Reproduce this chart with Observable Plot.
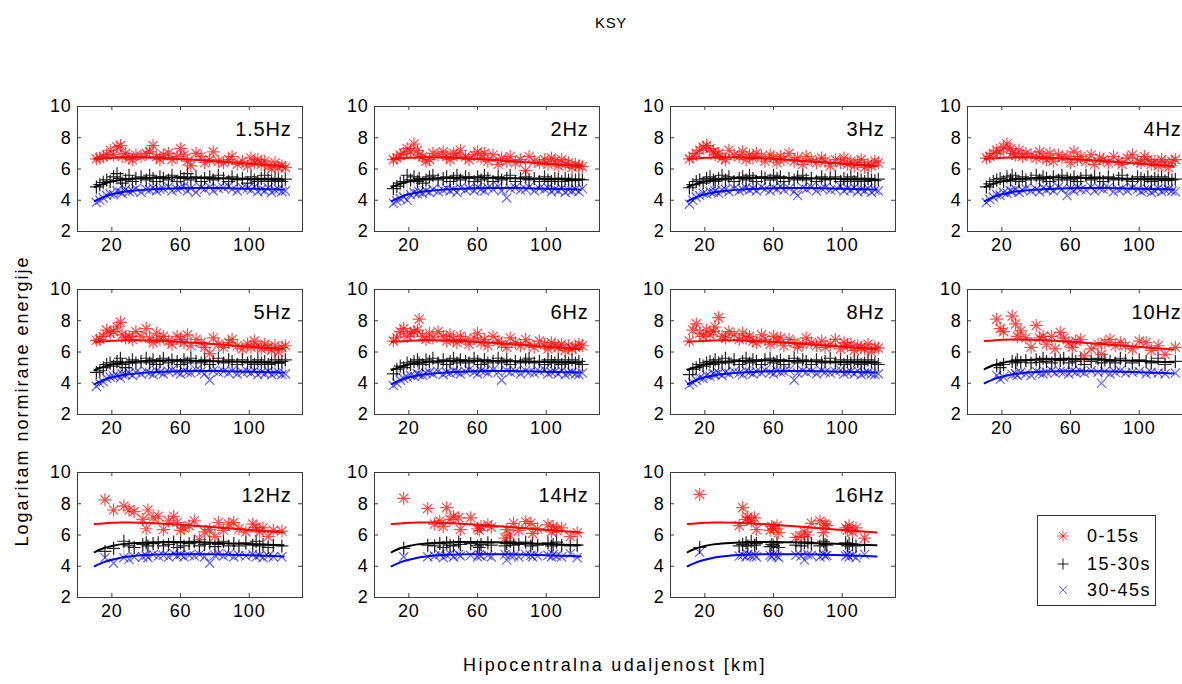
<!DOCTYPE html>
<html>
<head>
<meta charset="utf-8">
<script src="https://cdn.jsdelivr.net/npm/d3@7"></script>
<script src="https://cdn.jsdelivr.net/npm/@observablehq/plot@0.6"></script>
<style>
  html, body { margin: 0; padding: 0; background: #fff; }
  #root { position: relative; width: 1182px; height: 684px; overflow: hidden; background: #fff;
          font-family: "Liberation Sans", Arial, sans-serif; color: #000; }
  .panel { position: absolute; }
  .panel svg { max-width: none !important; display: block; }
  .lbl { position: absolute; white-space: nowrap; }
</style>
</head>
<body>
<div id="root"></div>
<script>
// ---------------- data ----------------
const title = "KSY";
const xTitle = "Hipocentralna udaljenost [km]";
const yTitle = "Logaritam normirane energije";
const seriesNames = ["0-15s", "15-30s", "30-45s"];
const panelLabels = ["1.5Hz","2Hz","3Hz","4Hz","5Hz","6Hz","8Hz","10Hz","12Hz","14Hz","16Hz"];
const xTicks = [20, 60, 100];
const yTicks = [2, 4, 6, 8, 10];
const xDomain = [0, 131];
const yDomain = [2, 10];

// event distances (km), low frequencies 1.5-8 Hz
const distLo = [11,13,15,17,19,21,23,25,26,28,30,32,34,37,40,42,44,46,48,50,53,55,58,60,62,64,66,69,72,74,77,79,82,85,88,90,93,96,99,101,103,105,107,109,111,113,115,117,119,121];

const red_1_5 = [6.65,6.7,6.8,6.9,7.2,6.9,7.4,7.5,6.8,7.0,6.7,6.6,6.9,6.8,7.0,7.1,7.5,6.8,6.6,6.9,7.0,6.6,6.8,7.3,6.9,6.5,6.2,7.0,6.8,6.4,6.6,7.1,6.5,6.4,6.6,6.8,6.3,6.5,6.2,6.7,6.4,6.6,6.3,6.5,6.2,6.0,6.4,6.1,6.2,6.1];
const blk_1_5 = [4.85,5.0,5.15,5.3,5.2,5.5,5.7,5.4,5.1,5.3,5.6,5.2,5.4,5.5,5.3,5.6,5.4,5.2,5.5,5.4,5.3,5.6,5.2,5.5,5.4,5.7,5.3,5.5,5.2,5.4,5.5,5.3,5.6,5.4,5.2,5.5,5.3,5.4,5.1,5.5,5.3,5.2,5.4,5.6,5.3,5.2,5.4,5.3,5.2,5.35];
const blu_1_5 = [3.85,4.0,4.15,4.3,4.4,4.35,4.6,4.5,4.45,4.7,4.55,4.6,4.75,4.5,4.7,4.65,4.8,4.6,4.7,4.75,4.85,4.6,4.7,4.8,4.9,4.6,4.75,4.5,4.8,4.7,4.85,4.6,4.75,4.8,4.9,4.7,4.6,4.8,4.75,4.65,4.85,4.55,4.7,4.6,4.8,4.5,4.65,4.7,4.55,4.6];

const red_2 = [6.6,6.7,6.9,7.0,7.3,7.1,7.6,7.2,6.9,6.8,6.5,6.6,7.0,6.9,7.1,6.8,6.6,7.0,6.9,7.2,6.8,6.6,6.9,7.1,6.7,7.0,6.5,6.9,6.3,6.7,6.5,6.8,6.4,6.6,5.9,6.8,6.5,6.4,6.6,6.3,6.7,6.5,6.2,6.6,6.3,6.4,6.1,6.3,6.2,6.15];
const blk_2 = [4.75,4.9,5.1,5.2,5.6,5.3,5.5,5.2,5.4,5.1,5.3,5.5,5.6,5.3,5.4,5.5,5.2,5.4,5.6,5.3,5.5,5.4,5.2,5.5,5.3,5.6,5.4,5.2,5.5,5.3,5.4,5.6,5.2,5.4,5.5,5.3,5.4,5.2,5.5,5.3,5.2,5.4,5.35,5.2,5.4,5.3,5.25,5.3,5.35,5.3];
const blu_2 = [3.8,3.95,4.1,4.2,4.0,4.35,4.5,4.4,4.55,4.45,4.6,4.5,4.7,4.55,4.65,4.75,4.6,4.7,4.5,4.8,4.65,4.75,4.6,4.85,4.7,4.6,4.8,4.7,4.9,4.6,4.15,4.75,4.8,4.65,4.7,4.85,4.6,4.75,4.7,4.8,4.55,4.7,4.6,4.75,4.5,4.65,4.6,4.7,4.55,4.75];

const red_3 = [6.65,6.8,7.0,7.2,7.4,7.5,7.3,7.1,6.9,7.0,6.7,6.6,7.2,6.9,6.8,7.1,6.6,6.9,6.7,7.0,6.8,6.5,6.9,6.7,6.4,6.8,6.6,7.0,6.5,6.7,6.3,6.8,6.6,6.4,6.7,6.5,6.2,6.6,6.4,6.7,6.3,6.5,6.2,6.4,6.6,6.1,6.3,6.2,6.5,6.4];
const blk_3 = [4.8,5.0,5.2,5.3,5.1,5.4,5.5,5.3,5.2,5.4,5.6,5.3,5.5,5.2,5.4,5.5,5.3,5.6,5.4,5.2,5.5,5.4,5.3,5.6,5.4,5.5,5.2,5.4,5.3,5.5,5.6,5.3,5.4,5.2,5.5,5.3,5.4,5.5,5.2,5.4,5.3,5.5,5.2,5.4,5.3,5.2,5.4,5.3,5.25,5.35];
const blu_3 = [3.75,4.0,4.2,4.3,4.45,4.4,4.55,4.5,4.6,4.45,4.65,4.7,4.55,4.75,4.6,4.7,4.8,4.65,4.75,4.6,4.85,4.7,4.6,4.8,4.7,4.9,4.65,4.75,4.55,4.3,4.8,4.7,4.85,4.6,4.75,4.8,4.65,4.7,4.9,4.6,4.75,4.65,4.8,4.55,4.7,4.6,4.75,4.5,4.65,4.6];

const red_4 = [6.7,6.8,7.0,7.2,7.1,7.4,7.6,7.3,7.0,6.9,7.2,6.8,7.0,6.9,6.7,7.1,6.8,6.6,7.0,6.5,6.9,6.7,6.8,6.4,7.1,6.6,6.8,6.5,6.9,6.3,6.7,6.6,6.4,6.8,6.5,6.3,6.7,6.9,6.5,6.4,6.8,6.6,6.3,6.5,6.2,6.6,6.4,6.1,6.5,6.6];
const blk_4 = [4.85,5.05,5.2,5.3,5.4,5.2,5.5,5.3,5.6,5.4,5.2,5.5,5.3,5.4,5.6,5.3,5.5,5.4,5.2,5.5,5.3,5.6,5.4,5.3,5.5,5.2,5.4,5.6,5.3,5.5,5.4,5.2,5.5,5.3,5.4,5.6,5.3,5.2,5.5,5.4,5.3,5.5,5.2,5.4,5.3,5.5,5.25,5.4,5.3,5.35];
const blu_4 = [3.85,4.05,4.2,4.35,4.3,4.5,4.45,4.6,4.55,4.7,4.5,4.65,4.75,4.6,4.7,4.55,4.8,4.65,4.75,4.6,4.85,4.7,4.3,4.75,4.6,4.8,4.7,4.65,4.85,4.6,4.75,4.7,4.8,4.55,4.65,4.75,4.6,4.8,4.7,4.55,4.65,4.7,4.5,4.6,4.75,4.55,4.65,4.7,4.6,4.55];

const red_5 = [6.75,6.8,7.0,7.4,7.2,7.3,7.6,7.9,7.1,6.9,7.0,6.8,7.3,7.0,7.5,6.9,6.6,7.2,6.8,7.0,6.7,6.5,7.0,6.8,6.6,7.1,6.4,6.8,6.6,6.3,5.9,6.9,6.5,6.3,6.6,6.8,6.4,6.2,6.5,6.3,6.7,6.4,6.2,6.5,6.3,6.1,6.4,6.0,6.3,6.4];
const blk_5 = [4.7,4.8,5.0,5.2,5.3,5.1,5.4,5.6,5.2,5.0,5.3,5.5,5.3,5.4,5.6,5.3,5.5,5.2,5.4,5.6,5.3,5.5,5.4,5.2,5.5,5.3,5.6,5.4,5.3,5.5,5.2,5.4,5.6,5.3,5.5,5.4,5.2,5.5,5.3,5.4,5.2,5.5,5.3,5.4,5.2,5.3,5.5,5.3,5.4,5.5];
const blu_5 = [3.8,4.0,4.1,4.3,4.4,4.45,4.5,4.35,4.6,4.55,4.65,4.5,4.7,4.6,4.75,4.65,4.55,4.8,4.7,4.6,4.75,4.85,4.7,4.6,4.8,4.7,4.65,4.85,4.75,4.6,4.2,4.8,4.7,4.75,4.65,4.8,4.6,4.7,4.75,4.65,4.8,4.55,4.7,4.6,4.75,4.55,4.65,4.7,4.55,4.6];

const red_6 = [6.7,6.9,7.3,7.5,7.0,7.2,7.3,7.4,8.1,7.0,6.8,7.2,6.9,7.3,7.0,6.7,7.1,6.8,6.6,7.0,6.8,6.5,6.9,7.2,6.6,6.8,6.4,7.0,6.7,6.5,6.3,6.9,6.6,6.4,6.8,6.5,6.3,6.7,6.5,6.2,6.6,6.4,6.3,6.5,6.1,6.4,6.2,6.3,6.5,6.4];
const blk_6 = [4.6,4.9,5.1,5.0,5.3,5.2,5.4,5.5,5.3,5.2,5.5,5.4,5.6,5.3,5.5,5.2,5.4,5.6,5.3,5.5,5.4,5.3,5.6,5.4,5.2,5.5,5.3,5.4,5.6,5.3,5.5,5.2,5.4,5.3,5.5,5.6,5.3,5.4,5.2,5.5,5.4,5.3,5.5,5.2,5.4,5.3,5.5,5.3,5.4,5.2];
const blu_6 = [3.85,4.0,4.2,4.3,4.4,4.5,4.45,4.6,4.55,4.5,4.65,4.7,4.6,4.75,4.55,4.7,4.65,4.8,4.7,4.6,4.75,4.85,4.7,4.6,4.8,4.75,4.65,4.85,4.7,4.2,4.8,4.7,4.75,4.6,4.8,4.7,4.65,4.75,4.85,4.6,4.7,4.75,4.6,4.8,4.55,4.65,4.7,4.6,4.55,4.65];

const red_8 = [6.7,7.4,7.8,7.2,7.0,7.4,7.1,7.3,7.6,8.2,7.0,6.9,7.3,7.1,6.8,7.2,6.9,7.0,6.7,6.6,7.1,6.8,6.5,7.0,6.7,6.9,6.4,6.8,6.6,6.3,6.5,6.9,6.6,6.4,6.7,6.3,6.5,6.8,6.2,6.6,6.4,6.5,6.1,6.4,6.3,6.2,6.5,6.0,6.3,6.25];
const blk_8 = [4.55,4.9,5.0,5.2,5.1,5.3,5.4,5.2,5.5,5.3,5.4,5.6,5.3,5.5,5.2,5.4,5.6,5.3,5.5,5.4,5.2,5.5,5.6,5.3,5.4,5.5,5.2,5.4,5.6,5.3,5.5,5.4,5.2,5.5,5.3,5.4,5.6,5.3,5.5,5.2,5.4,5.3,5.5,5.4,5.2,5.3,5.5,5.4,5.3,5.2];
const blu_8 = [3.9,4.05,4.2,4.35,4.3,4.5,4.45,4.6,4.55,4.65,4.5,4.7,4.6,4.75,4.65,4.55,4.8,4.7,4.6,4.75,4.65,4.85,4.7,4.6,4.8,4.7,4.75,4.85,4.2,4.65,4.8,4.7,4.75,4.6,4.8,4.7,4.65,4.75,4.85,4.6,4.7,4.75,4.6,4.8,4.55,4.65,4.7,4.6,4.55,4.6];

// higher frequencies: fewer events
const dist_10 = [17,19,21,26,28,29,31,34,37,40,42,44,46,49,51,54,56,59,61,63,66,68,72,76,78,80,83,86,89,92,96,100,104,107,111,115,121];
const red_10 = [8.1,7.5,7.3,8.3,7.8,7.0,7.35,6.9,6.3,7.7,6.9,7.0,6.5,7.0,6.2,7.25,6.9,6.6,6.3,6.7,6.8,5.75,6.2,6.5,5.85,6.6,6.8,6.4,6.6,6.4,6.2,6.7,6.6,6.1,6.4,5.85,6.3];
const blk_10 = [5.15,5.0,5.2,5.4,5.3,5.5,5.35,5.45,5.3,5.5,5.35,5.6,5.4,5.3,5.5,5.45,5.6,5.3,5.5,5.4,5.55,5.2,5.4,5.6,5.3,5.5,5.4,5.3,5.6,5.45,5.3,5.5,5.4,5.3,5.6,5.2,5.4];
const blu_10 = [4.5,4.25,4.4,4.55,4.6,4.5,4.7,4.6,4.5,4.75,4.65,4.6,4.7,4.8,4.65,4.75,4.7,4.6,4.8,4.7,4.75,4.65,4.8,4.7,4.0,4.75,4.6,4.7,4.8,4.65,4.7,4.75,4.6,4.7,4.65,4.6,4.65];

const dist_12 = [16,21,27,30,33,38,40,41,44,47,50,53,56,58,60,62,65,68,71,74,77,80,82,85,88,91,94,98,102,104,106,108,111,114,119];
const red_12 = [8.25,7.6,7.85,7.6,7.5,7.0,6.4,7.6,7.1,7.2,6.35,6.9,7.2,6.8,6.3,6.45,6.6,6.9,5.7,6.2,6.35,5.9,6.8,6.3,6.7,6.8,6.4,6.2,6.7,6.5,6.2,6.45,5.9,6.3,6.25];
const blk_12 = [4.95,5.15,5.6,5.3,5.2,5.4,5.5,5.3,5.45,5.5,5.3,5.4,5.55,5.2,5.5,5.3,5.45,5.6,5.3,5.4,5.5,5.25,5.4,5.6,5.3,5.45,5.3,5.5,5.35,5.6,5.3,5.4,5.2,5.35,5.3];
const blu_12 = [4.55,4.2,4.55,4.45,4.6,4.6,4.7,4.55,4.75,4.65,4.7,4.6,4.8,4.65,4.75,4.6,4.7,4.65,4.75,4.6,4.2,4.7,4.8,4.65,4.75,4.6,4.7,4.65,4.75,4.6,4.7,4.55,4.65,4.6,4.6];

const dist_14 = [17,31,35,38,40,42,44,46,49,50,56,60,61,62,66,68,76,77,79,81,84,88,91,92,95,101,103,104,106,109,114,118];
const red_14 = [8.35,7.7,6.7,6.9,6.55,7.75,7.0,7.2,7.1,6.35,7.1,6.4,6.3,6.55,6.65,6.5,5.8,6.35,6.0,6.75,6.3,6.85,6.75,6.1,6.4,6.65,6.2,6.55,6.3,6.45,5.9,6.15];
const blk_14 = [5.15,5.35,5.3,5.45,5.2,5.5,5.35,5.3,5.55,5.4,5.45,5.3,5.2,5.4,5.5,5.35,5.3,5.45,5.6,5.35,5.4,5.55,5.3,5.45,5.35,5.5,5.3,5.4,5.55,5.35,5.3,5.35];
const blu_14 = [4.6,4.6,4.65,4.75,4.55,4.7,4.8,4.6,4.75,4.65,4.7,4.6,4.75,4.65,4.7,4.6,4.75,4.4,4.7,4.65,4.6,4.75,4.7,4.6,4.65,4.7,4.6,4.75,4.65,4.6,4.8,4.55];

const dist_16 = [17,40,42,44,45,47,49,50,58,59,60,62,63,73,76,78,80,82,87,89,90,91,102,103,104,106,108,113];
const red_16 = [8.6,6.6,7.75,7.0,7.15,6.9,7.1,6.35,6.3,6.55,6.4,6.6,6.15,5.85,5.9,6.2,6.0,6.75,6.9,6.15,6.7,6.6,6.45,6.3,6.6,6.2,6.45,5.8];
const blk_16 = [5.2,5.3,5.4,5.5,5.3,5.6,5.35,5.45,5.25,5.4,5.3,5.5,5.2,5.35,5.3,5.5,5.55,5.45,5.3,5.6,5.4,5.35,5.5,5.3,5.45,5.4,5.3,5.35];
const blu_16 = [4.9,4.65,4.7,4.6,4.75,4.65,4.7,4.6,4.7,4.6,4.75,4.65,4.55,4.7,4.65,4.4,4.75,4.7,4.6,4.75,4.65,4.7,4.65,4.75,4.6,4.7,4.55,4.75];

// fitted curves
const fitX = [10,15,20,25,30,40,50,60,70,80,90,100,110,120];
const fitRedLo = [6.65,6.68,6.72,6.74,6.75,6.74,6.7,6.64,6.57,6.5,6.42,6.34,6.26,6.18];
const fitBlkLo = [4.85,5.05,5.2,5.3,5.36,5.42,5.45,5.45,5.43,5.41,5.38,5.36,5.34,5.32];
const fitBluLo = [3.95,4.2,4.38,4.5,4.58,4.68,4.74,4.77,4.78,4.78,4.76,4.74,4.71,4.68];
const fitRedHi = [6.7,6.74,6.78,6.8,6.8,6.77,6.72,6.65,6.57,6.49,6.41,6.32,6.24,6.16];
const fitBlkHi = [4.9,5.15,5.3,5.4,5.46,5.52,5.55,5.55,5.53,5.5,5.46,5.42,5.38,5.34];
const fitBluHi = [4.0,4.25,4.42,4.55,4.63,4.72,4.76,4.77,4.77,4.76,4.74,4.71,4.67,4.63];

// ---------------- assembly ----------------
const panelData = [
  [distLo, red_1_5, blk_1_5, blu_1_5, "lo"],
  [distLo, red_2, blk_2, blu_2, "lo"],
  [distLo, red_3, blk_3, blu_3, "lo"],
  [distLo, red_4, blk_4, blu_4, "lo"],
  [distLo, red_5, blk_5, blu_5, "lo"],
  [distLo, red_6, blk_6, blu_6, "lo"],
  [distLo, red_8, blk_8, blu_8, "lo"],
  [dist_10, red_10, blk_10, blu_10, "hi"],
  [dist_12, red_12, blk_12, blu_12, "hi"],
  [dist_14, red_14, blk_14, blu_14, "hi"],
  [dist_16, red_16, blk_16, blu_16, "hi"]
];

const colors = ["#ff0000", "#000000", "#0000ff"];

// marker shapes (MATLAB-like '*', '+', 'x'); arm length = r
const symAst = {draw(ctx, size) {
  const r = Math.sqrt(size / Math.PI), d = r * Math.SQRT1_2;
  ctx.moveTo(-r, 0); ctx.lineTo(r, 0); ctx.moveTo(0, -r); ctx.lineTo(0, r);
  ctx.moveTo(-d, -d); ctx.lineTo(d, d); ctx.moveTo(-d, d); ctx.lineTo(d, -d);
}};
const symPlus = {draw(ctx, size) {
  const r = Math.sqrt(size / Math.PI);
  ctx.moveTo(-r, 0); ctx.lineTo(r, 0); ctx.moveTo(0, -r); ctx.lineTo(0, r);
}};
const symTimes = {draw(ctx, size) {
  const r = Math.sqrt(size / Math.PI) * Math.SQRT1_2;
  ctx.moveTo(-r, -r); ctx.lineTo(r, r); ctx.moveTo(-r, r); ctx.lineTo(r, -r);
}};
const symbols = [symAst, symPlus, symTimes];

// layout
const PW = 225, PH = 125;
const ML = 45, MR = 6, MT = 6, MB = 32;
const colLeft = [77, 373.5, 670, 966.5];
const rowTop = [106, 289, 472];
const axisColor = "#3c3c3c";
const fontFam = '"Liberation Sans", Arial, sans-serif';

const root = document.getElementById("root");

function makePanel(i) {
  const [dist, rr, kk, bb, grp] = panelData[i];
  const pts = dist.map((x, j) => ({x, r: rr[j], k: kk[j], b: bb[j]}))
                  .filter(d => d.r != null && d.k != null && d.b != null);
  const fr = grp === "lo" ? fitRedLo : fitRedHi;
  const fk = grp === "lo" ? fitBlkLo : fitBlkHi;
  const fb = grp === "lo" ? fitBluLo : fitBluHi;
  const fits = fitX.map((x, j) => ({x, r: fr[j], k: fk[j], b: fb[j]}));

  const plot = Plot.plot({
    width: PW + ML + MR, height: PH + MT + MB,
    marginLeft: ML, marginRight: MR, marginTop: MT, marginBottom: MB,
    x: {domain: xDomain},
    y: {domain: yDomain},
    style: {fontFamily: fontFam, fontSize: "18px", background: "transparent", overflow: "visible", color: "#000", letterSpacing: "0.8px", maxWidth: "none"},
    marks: [
      Plot.ruleX(pts, {x: "x", y1: d => d.b + 0.1, y2: "k", stroke: "#808080", strokeOpacity: 0.45, strokeWidth: 1.2}),
      Plot.dot(pts, {x: "x", y: "b", symbol: symbols[2], r: 6.5, fill: "none", stroke: colors[2], strokeOpacity: 0.6, strokeWidth: 1.2}),
      Plot.dot(pts, {x: "x", y: "k", symbol: symbols[1], r: 6.5, fill: "none", stroke: colors[1], strokeOpacity: 0.85, strokeWidth: 1.2}),
      Plot.dot(pts, {x: "x", y: "r", symbol: symbols[0], r: 6.5, fill: "none", stroke: colors[0], strokeOpacity: 0.7, strokeWidth: 1.2}),
      Plot.line(fits, {x: "x", y: "b", stroke: colors[2], strokeWidth: 2, curve: "natural"}),
      Plot.line(fits, {x: "x", y: "k", stroke: colors[1], strokeWidth: 2, curve: "natural"}),
      Plot.line(fits, {x: "x", y: "r", stroke: colors[0], strokeWidth: 2, curve: "natural"}),
      Plot.frame({stroke: axisColor, strokeWidth: 1}),
      Plot.tickX(xTicks, {x: d => d, insetTop: PH - 4, stroke: axisColor}),
      Plot.tickX(xTicks, {x: d => d, insetBottom: PH - 4, stroke: axisColor}),
      Plot.tickY(yTicks, {y: d => d, insetRight: PW - 4, stroke: axisColor}),
      Plot.tickY(yTicks, {y: d => d, insetLeft: PW - 4, stroke: axisColor}),
      Plot.axisX({ticks: xTicks, tickSize: 0, tickPadding: 7, label: null, tickFormat: d => String(d)}),
      Plot.axisY({ticks: yTicks, tickSize: 0, tickPadding: 6, label: null, tickFormat: d => String(d)}),
      Plot.text([panelLabels[i]], {text: d => d, frameAnchor: "top-right", lineAnchor: "middle", dx: -11, dy: 23, fontSize: 20, letterSpacing: "2px"})
    ]
  });
  plot.style.maxWidth = "none";
  const div = document.createElement("div");
  div.className = "panel";
  div.style.left = (colLeft[i % 4] - ML) + "px";
  div.style.top = (rowTop[Math.floor(i / 4)] - MT) + "px";
  div.style.width = (PW + ML + MR) + "px";
  div.style.height = (PH + MT + MB) + "px";
  div.appendChild(plot);
  root.appendChild(div);
}
for (let i = 0; i < panelData.length; i++) makePanel(i);

// titles
function addLabel(text, css) {
  const el = document.createElement("div");
  el.className = "lbl";
  el.textContent = text;
  Object.assign(el.style, css);
  root.appendChild(el);
  return el;
}
addLabel(title, {left: "611px", top: "22px", transform: "translate(-50%,-50%)", fontSize: "15px", letterSpacing: "0.6px"});
addLabel(xTitle, {left: "615px", top: "665px", transform: "translate(-50%,-50%)", fontSize: "18px", letterSpacing: "2.3px"});
addLabel(yTitle, {left: "22px", top: "401px", transform: "translate(-50%,-50%) rotate(-90deg)", fontSize: "18px", letterSpacing: "2px"});

// legend
const leg = document.createElement("div");
Object.assign(leg.style, {position: "absolute", left: "1037px", top: "515px", width: "119px", height: "91px",
  border: "1px solid #333", background: "#fff", boxSizing: "border-box"});
root.appendChild(leg);
const legRowY = [20, 48, 74];
seriesNames.forEach((name, j) => {
  const svg = d3.create("svg").attr("width", 20).attr("height", 20)
    .style("position", "absolute").style("left", "15px").style("top", (legRowY[j] - 10) + "px");
  svg.append("path").attr("transform", "translate(10,10)")
    .attr("d", d3.symbol(symbols[j], Math.PI * 5.5 * 5.5)())
    .attr("fill", "none").attr("stroke", colors[j]).attr("stroke-opacity", [0.7, 0.9, 0.6][j]);
  leg.appendChild(svg.node());
  const t = document.createElement("div");
  t.textContent = name;
  Object.assign(t.style, {position: "absolute", left: "49px", top: legRowY[j] + "px", transform: "translateY(-50%)",
    fontSize: "18px", letterSpacing: "1.5px", whiteSpace: "nowrap"});
  leg.appendChild(t);
});
</script>
</body>
</html>
